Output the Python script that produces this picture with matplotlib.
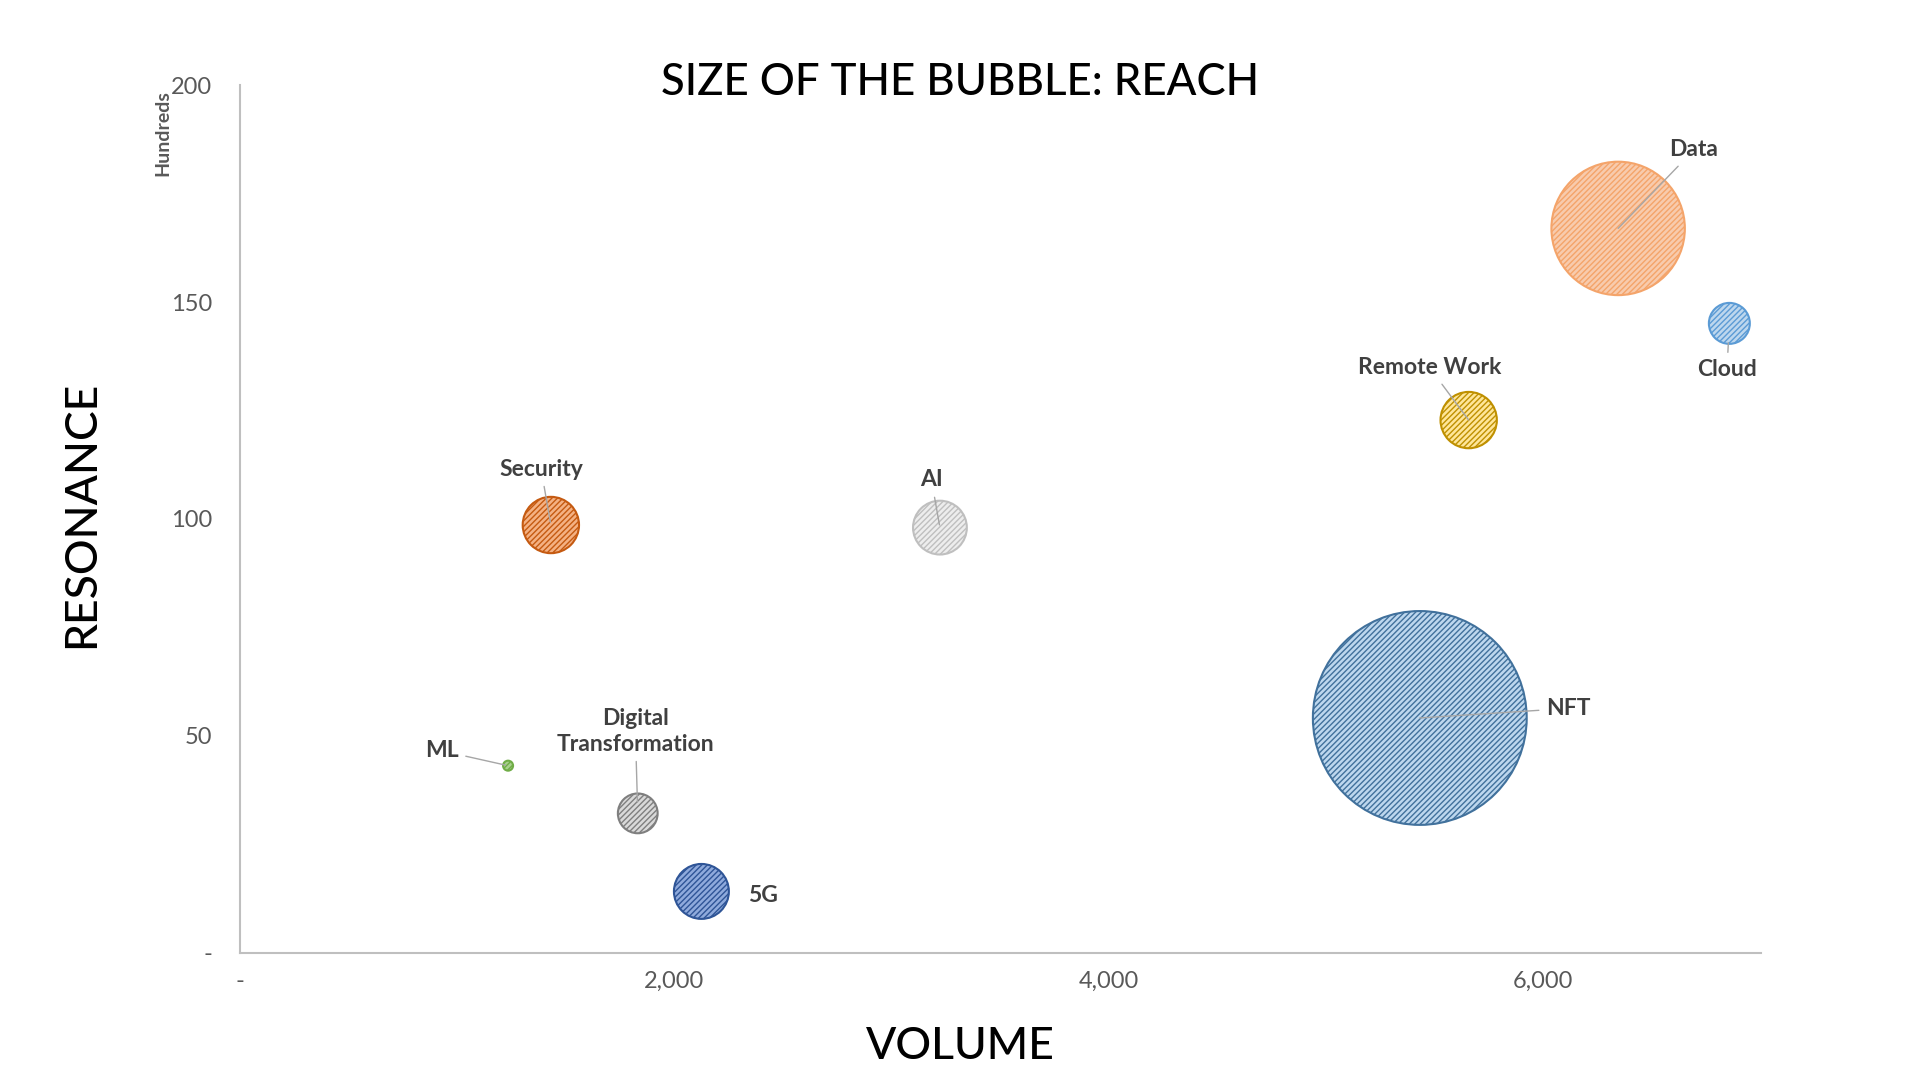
import matplotlib
matplotlib.use("Agg")
import matplotlib.pyplot as plt
from matplotlib.ticker import FuncFormatter

plt.rcParams['font.family'] = ['Lato', 'DejaVu Sans']

# data
topics = ['Data', 'Cloud', 'Remote Work', 'Security', 'AI', 'NFT', 'ML',
          'Digital\nTransformation', '5G']
volume = [6344, 6856, 5656, 1431, 3222, 5431, 1234, 1831, 2124]
resonance = [167.0, 145.1, 122.8, 98.6, 98.0, 54.1, 43.1, 32.1, 14.1]
reach = [4460, 420, 795, 795, 725, 11450, 25, 396, 756]

# bubble styles: fill, hatch colour, outline
fills = ['#F8CBAD', '#BDD7EE', '#FFE699', '#F4B183', '#EDEDED', '#BDD7EE',
         '#A9D18E', '#D9D9D9', '#8FAADC']
edges = ['#F4A46A', '#5B9BD5', '#9C7A00', '#A04A10', '#BFBFBF', '#2E5F8C',
         '#70AD47', '#6F6F6F', '#2F4F8F']
outlines = ['#F4A46A', '#5B9BD5', '#BF9000', '#C55A11', '#BFBFBF', '#41719C',
            '#70AD47', '#7F7F7F', '#2F5597']

# label placement: offset from bubble (data units), alignment, leader shrink (pt)
label_dx = [236, -11, -180, -45, -39, 580, -226, -11, 214]
label_dy = [18.1, -10.7, 12.1, 12.9, 11.0, 2.2, 3.4, 18.9, -0.9]
label_ha = ['left', 'center', 'center', 'center', 'center', 'left', 'right',
            'center', 'left']
leader_shrink = [0, 14, 0, 2, 2, 0, 2, 8, None]

size_scale = 2.07  # px^2 -> points^2 at dpi 100

fig = plt.figure(figsize=(19.2, 10.8), dpi=100)
ax = fig.add_axes([0.125, 0.118, 0.792, 0.803])

for i in range(len(topics)):
    with plt.rc_context({'hatch.color': edges[i], 'hatch.linewidth': 1.0}):
        ax.scatter(volume[i], resonance[i], s=reach[i] * size_scale,
                   facecolor=fills[i], edgecolor=outlines[i], linewidth=1.5,
                   hatch='//////', zorder=3)

for i, name in enumerate(topics):
    tx = volume[i] + label_dx[i]
    ty = resonance[i] + label_dy[i]
    if leader_shrink[i] is None:
        ax.text(tx, ty, name, ha=label_ha[i], va='center', fontsize=16.5,
                fontweight='bold', color='#404040', linespacing=1.25, zorder=5)
    else:
        ax.annotate(name, xy=(volume[i], resonance[i]), xytext=(tx, ty),
                    ha=label_ha[i], va='center', fontsize=16.5, fontweight='bold',
                    color='#404040', linespacing=1.25, zorder=5,
                    arrowprops=dict(arrowstyle='-', color='#A6A6A6', lw=1.0,
                                    shrinkA=3, shrinkB=leader_shrink[i]))

ax.set_xlim(0, 7000)
ax.set_ylim(0, 200)
ax.set_xticks([0, 2000, 4000, 6000])
ax.set_yticks([0, 50, 100, 150, 200])
ax.xaxis.set_major_formatter(FuncFormatter(lambda v, p: '-' if v == 0 else f'{v:,.0f}'))
ax.yaxis.set_major_formatter(FuncFormatter(lambda v, p: '-' if v == 0 else f'{v:.0f}'))
ax.tick_params(axis='both', length=0, labelsize=17, labelcolor='#595959')
ax.tick_params(axis='y', pad=20)
ax.tick_params(axis='x', pad=13)

for side in ['top', 'right']:
    ax.spines[side].set_visible(False)
for side in ['left', 'bottom']:
    ax.spines[side].set_color('#BFBFBF')
    ax.spines[side].set_linewidth(1.5)

fig.text(0.5, 0.924, 'SIZE OF THE BUBBLE: REACH', ha='center', va='center',
         fontsize=31.5, fontweight='medium', color='black')
fig.text(0.0427, 0.524, 'RESONANCE', rotation=90, ha='center', va='center',
         fontsize=32, fontweight='medium', color='black')
fig.text(0.5, 0.031, 'VOLUME', ha='center', va='center', fontsize=32,
         fontweight='medium', color='black')
fig.text(0.0848, 0.877, 'Hundreds', rotation=90, ha='center', va='center',
         fontsize=14, fontweight='bold', color='#595959')

fig.savefig('out.png', dpi=100)
